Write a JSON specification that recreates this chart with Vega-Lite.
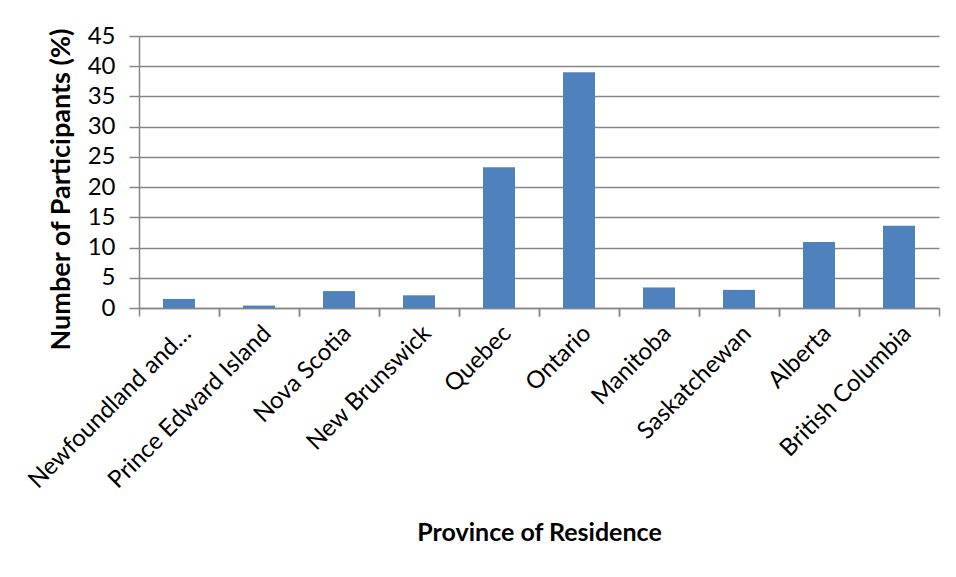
{
  "$schema": "https://vega.github.io/schema/vega-lite/v6.json",
  "width": 800,
  "height": 272,
  "autosize": {"type": "none"},
  "padding": {"left": 139, "top": 36, "right": 17, "bottom": 269},
  "background": "white",
  "data": {"values": [
    {"province": "Newfoundland and…", "pct": 1.5},
    {"province": "Prince Edward Island", "pct": 0.4},
    {"province": "Nova Scotia", "pct": 2.8},
    {"province": "New Brunswick", "pct": 2.1},
    {"province": "Quebec", "pct": 23.3},
    {"province": "Ontario", "pct": 39.0},
    {"province": "Manitoba", "pct": 3.4},
    {"province": "Saskatchewan", "pct": 3.0},
    {"province": "Alberta", "pct": 10.9},
    {"province": "British Columbia", "pct": 13.6}
  ]},
  "config": {
    "font": "Lato",
    "view": {"stroke": null},
    "axis": {"labelColor": "black", "titleColor": "black", "labelFont": "Lato", "titleFont": "Lato"}
  },
  "resolve": {"axis": {"x": "independent", "y": "independent"}},
  "layer": [
    {
      "mark": {"type": "bar", "color": "#4F81BD", "width": {"band": 0.4}},
      "encoding": {
        "x": {"field": "province", "type": "nominal", "sort": null,
          "scale": {"paddingInner": 0, "paddingOuter": 0},
          "axis": {"orient": "bottom", "title": "Province of Residence", "titleFontSize": 25, "titleFontWeight": "bold", "titlePadding": 28,
            "labelAngle": -45, "labelFontSize": 24, "labelPadding": 13, "ticks": false,
            "domainColor": "#868686", "domainWidth": 1.5, "labelLimit": 300}},
        "y": {"field": "pct", "type": "quantitative",
          "scale": {"domain": [0, 45]},
          "axis": {"orient": "left", "title": "Number of Participants (%)", "titleFontSize": 27, "titleFontWeight": "bold", "titlePadding": 12, "titleY": 153,
            "values": [0,5,10,15,20,25,30,35,40,45], "labelFontSize": 24, "labelPadding": 14,
            "tickSize": 10, "tickColor": "#868686", "tickWidth": 1.5, "domainColor": "#868686", "domainWidth": 1.5,
            "grid": true, "gridColor": "#868686", "gridWidth": 1.5}}
      }
    },
    {
      "mark": {"type": "bar", "opacity": 0, "width": {"band": 0.4}},
      "encoding": {
        "x": {"field": "province", "type": "nominal", "sort": null,
          "axis": {"orient": "bottom", "title": null, "labels": false, "domain": false, "ticks": true, "bandPosition": 0,
            "tickSize": 8, "tickColor": "#868686", "tickWidth": 1.5}},
        "y": {"field": "pct", "type": "quantitative", "axis": null}
      }
    },
    {
      "mark": {"type": "bar", "opacity": 0, "width": {"band": 0.4}},
      "encoding": {
        "x": {"field": "province", "type": "nominal", "sort": null,
          "axis": {"orient": "bottom", "title": null, "labels": false, "domain": false, "ticks": true, "bandPosition": 1,
            "tickSize": 8, "tickColor": "#868686", "tickWidth": 1.5}},
        "y": {"field": "pct", "type": "quantitative", "axis": null}
      }
    }
  ]
}
